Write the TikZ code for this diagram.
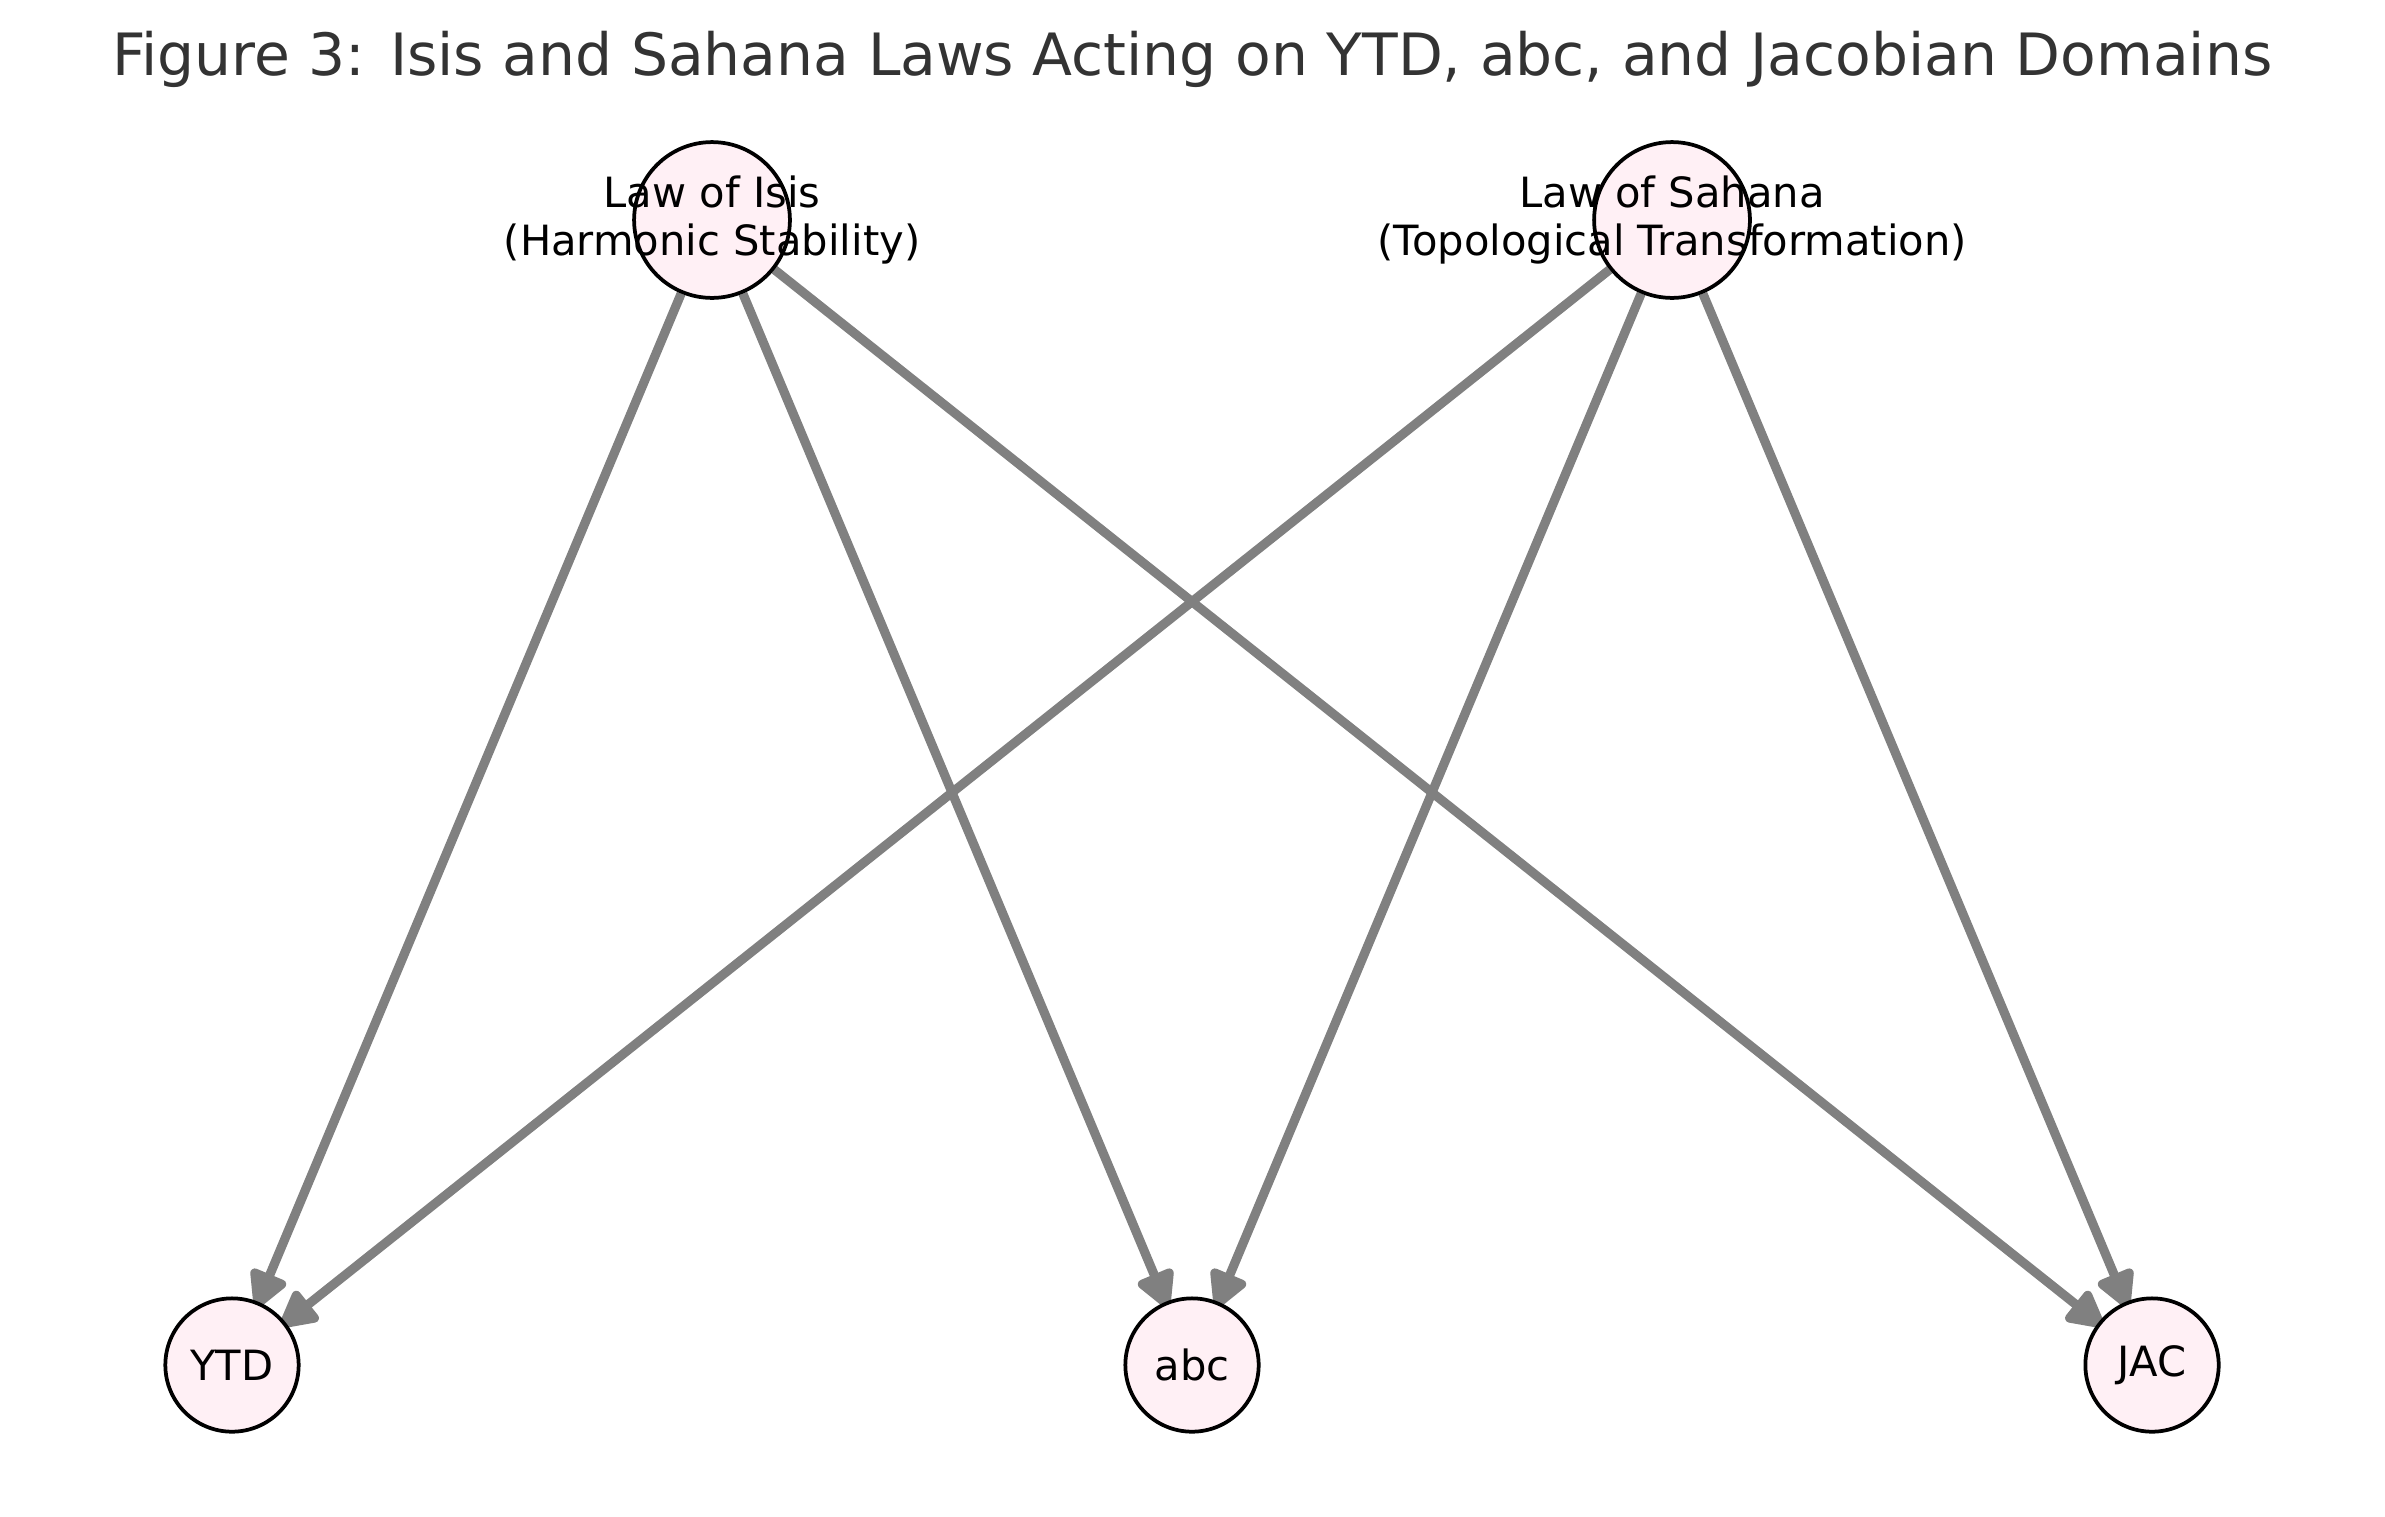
\documentclass[tikz,border=0pt]{standalone}
\usepackage{fontspec}
\setmainfont{DejaVu Sans}
\usepackage{tikz}
\usetikzlibrary{arrows.meta,backgrounds}
\definecolor{blush}{HTML}{FFF0F5}
\definecolor{titlegray}{HTML}{333333}

\begin{document}
\begin{tikzpicture}[x=0.24pt,y=-0.24pt,
    law/.style={circle,draw,line width=0.9pt,fill=blush,minimum size=37.4pt,inner sep=0pt},
    dom/.style={circle,draw,line width=0.9pt,fill=blush,minimum size=32pt,inner sep=0pt,font=\fontsize{10}{12}\selectfont},
    acts/.style={draw=gray,line width=2.2pt,shorten >=-1.5pt,-{Triangle[length=10pt,width=10pt,round]}}]
    \useasboundingbox (0,0) rectangle (2385,1516);
    \node [anchor=base,text=titlegray,font=\fontsize{14}{17}\selectfont] (title) at (1192,75) {
      Figure 3: Isis and Sahana Laws Acting on YTD, abc, and Jacobian Domains
    };
    \node [law,label={[align=center,font=\fontsize{10}{11.6}\selectfont]center:Law of Isis\\(Harmonic Stability)}] (isis) at (712,220) {};
    \node [law,label={[align=center,font=\fontsize{10}{11.6}\selectfont]center:Law of Sahana\\(Topological Transformation)}] (sahana) at (1672,220) {};
    \node [dom] (ytd) at (232,1365) {YTD};
    \node [dom] (abc) at (1192,1365) {abc};
    \node [dom] (jac) at (2152,1365) {JAC};

    \begin{scope}[on background layer]
      \draw [acts] (isis) -- (ytd);
      \draw [acts] (isis) -- (abc);
      \draw [acts] (isis) -- (jac);
      \draw [acts] (sahana) -- (ytd);
      \draw [acts] (sahana) -- (abc);
      \draw [acts] (sahana) -- (jac);
    \end{scope}
  \end{tikzpicture}
\end{document}
